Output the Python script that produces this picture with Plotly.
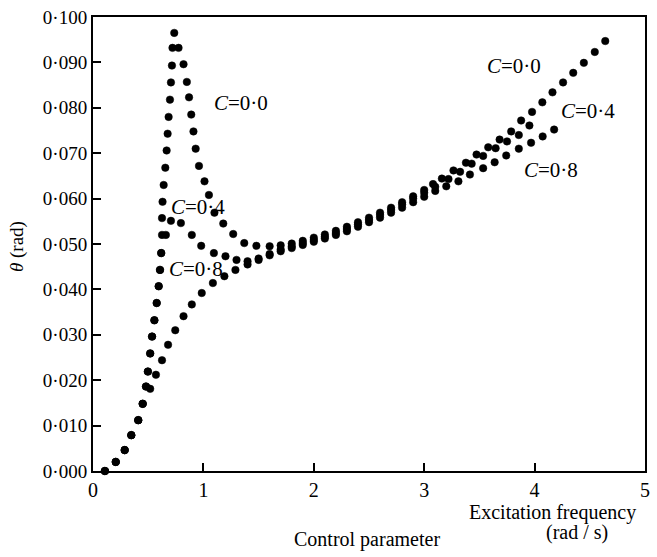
import plotly.graph_objects as go

# ---- data ----
series_names = ["C=0·0", "C=0·4", "C=0·8"]

x_c00 = [0.108, 0.206, 0.287, 0.347, 0.41, 0.45, 0.48, 0.497, 0.518, 0.535, 0.556, 0.577,
         0.595, 0.607, 0.618, 0.625, 0.625, 0.63, 0.64, 0.655, 0.667, 0.676, 0.685, 0.697,
         0.706, 0.715, 0.72, 0.736, 0.775, 0.82, 0.85, 0.87, 0.89, 0.91, 0.93, 0.96, 1.01,
         1.05, 1.10, 1.18, 1.27, 1.37, 1.48, 1.6, 1.7, 1.8, 1.9, 2.0, 2.1, 2.2, 2.3, 2.4,
         2.5, 2.6, 2.7, 2.8, 2.9, 3.0, 3.08, 3.16, 3.265, 3.378, 3.474, 3.58, 3.683, 3.788,
         3.878, 3.977, 4.07, 4.162, 4.258, 4.35, 4.446, 4.545, 4.64]
y_c00 = [0.0, 0.002, 0.0046, 0.0079, 0.0112, 0.0148, 0.0186, 0.0219, 0.0259, 0.0296, 0.0332,
         0.037, 0.0407, 0.0443, 0.048, 0.052, 0.0557, 0.0593, 0.063, 0.0668, 0.0706, 0.0743,
         0.078, 0.0818, 0.0856, 0.0893, 0.0932, 0.0965, 0.0932, 0.0896, 0.0857, 0.0823,
         0.0785, 0.0748, 0.071, 0.0672, 0.0638, 0.0608, 0.0569, 0.0545, 0.0522, 0.0502,
         0.0496, 0.0495, 0.0497, 0.0501, 0.0507, 0.0514, 0.0521, 0.0529, 0.0538, 0.0548,
         0.0558, 0.0569, 0.0580, 0.0592, 0.0605, 0.0619, 0.0632, 0.0644, 0.0662, 0.0679,
         0.0697, 0.0713, 0.073, 0.0748, 0.0772, 0.0791, 0.0812, 0.0834, 0.0856, 0.0877,
         0.0899, 0.0923, 0.0947]

x_c04 = [0.108, 0.206, 0.287, 0.347, 0.41, 0.45, 0.48, 0.497, 0.518, 0.535, 0.556, 0.577,
         0.595, 0.607, 0.618, 0.66, 0.706, 0.796, 0.895, 0.98, 1.095, 1.2, 1.3, 1.4, 1.5,
         1.6, 1.7, 1.8, 1.9, 2.0, 2.1, 2.2, 2.3, 2.4, 2.5, 2.6, 2.7, 2.8, 2.9, 3.0, 3.1,
         3.22, 3.325, 3.43, 3.534, 3.647, 3.75, 3.857, 3.953]
y_c04 = [0.0, 0.002, 0.0046, 0.0079, 0.0112, 0.0148, 0.0186, 0.0219, 0.0259, 0.0296, 0.0332,
         0.037, 0.0407, 0.0443, 0.048, 0.052, 0.0551, 0.0546, 0.052, 0.0496, 0.048, 0.0473,
         0.0465, 0.0462, 0.0468, 0.0478, 0.0488, 0.0495, 0.0502, 0.0509, 0.0516, 0.0524,
         0.0533, 0.0543, 0.0553, 0.0564, 0.0575, 0.0587, 0.0600, 0.0613, 0.0626, 0.0643,
         0.0659, 0.0677, 0.0694, 0.0711, 0.0726, 0.074, 0.0761]

x_c08 = [0.108, 0.206, 0.287, 0.347, 0.41, 0.45, 0.518, 0.57, 0.625, 0.68, 0.745, 0.82,
         0.895, 0.985, 1.086, 1.19, 1.29, 1.4, 1.5, 1.6, 1.7, 1.8, 1.9, 2.0, 2.1, 2.2, 2.3,
         2.4, 2.5, 2.6, 2.7, 2.8, 2.9, 3.0, 3.1, 3.2, 3.31, 3.414, 3.534, 3.638, 3.743,
         3.857, 3.968, 4.073, 4.177]
y_c08 = [0.0, 0.002, 0.0046, 0.0079, 0.0112, 0.0148, 0.0181, 0.0212, 0.0244, 0.0278, 0.031,
         0.0341, 0.0367, 0.0392, 0.0414, 0.0429, 0.0443, 0.0455, 0.0465, 0.0475, 0.0484,
         0.0491, 0.0498, 0.0505, 0.0512, 0.0520, 0.0528, 0.0538, 0.0548, 0.0558, 0.0569,
         0.0580, 0.0592, 0.0604, 0.0617, 0.0627, 0.0638, 0.0653, 0.0667, 0.068, 0.0695,
         0.071, 0.0723, 0.0737, 0.0752]

x_ticks = [0, 1, 2, 3, 4, 5]
x_ticklabels = ["0", "1", "2", "3", "4", "5"]
y_ticks = [0.0, 0.01, 0.02, 0.03, 0.04, 0.05, 0.06, 0.07, 0.08, 0.09, 0.1]
y_ticklabels = ["0·000", "0·010", "0·020", "0·030", "0·040", "0·050",
                "0·060", "0·070", "0·080", "0·090", "0·100"]

# curve labels: (text, x, y)
label_text = ["<i>C</i>=0·0", "<i>C</i>=0·4", "<i>C</i>=0·8",
              "<i>C</i>=0·0", "<i>C</i>=0·4", "<i>C</i>=0·8"]
label_x = [1.34, 0.95, 0.93, 3.81, 4.48, 4.15]
label_y = [0.081, 0.0582, 0.0446, 0.0893, 0.0794, 0.0663]

FONT = "Liberation Serif"

fig = go.Figure()
for name, xs, ys in [(series_names[0], x_c00, y_c00),
                     (series_names[1], x_c04, y_c04),
                     (series_names[2], x_c08, y_c08)]:
    fig.add_trace(go.Scatter(
        x=xs, y=ys, mode="markers", name=name, showlegend=False,
        cliponaxis=False,
        marker=dict(symbol="circle", size=7.5, color="black",
                    line=dict(width=0.5, color="black")),
    ))

for t, lx, ly in zip(label_text, label_x, label_y):
    fig.add_annotation(x=lx, y=ly, text=t, showarrow=False, xanchor="center",
                       font=dict(family=FONT, size=21, color="black"))

fig.add_annotation(xref="paper", yref="paper", x=0.833, y=-0.092, text="Excitation frequency",
                   showarrow=False, xanchor="center", yanchor="middle",
                   font=dict(family=FONT, size=20, color="black"))
fig.add_annotation(xref="paper", yref="paper", x=0.876, y=-0.136, text="(rad / s)",
                   showarrow=False, xanchor="center", yanchor="middle",
                   font=dict(family=FONT, size=20, color="black"))
fig.add_annotation(xref="paper", yref="paper", x=0.496, y=-0.151, text="Control parameter",
                   showarrow=False, xanchor="center", yanchor="middle",
                   font=dict(family=FONT, size=20, color="black"))
# y-axis title
fig.add_annotation(xref="paper", yref="paper", x=-0.138, y=0.495, text="<i>θ</i> (rad)",
                   showarrow=False, xanchor="center", yanchor="middle", textangle=-90,
                   font=dict(family=FONT, size=19, color="black"))

fig.update_layout(
    width=657, height=557,
    margin=dict(l=93, r=7, t=14, b=86),
    paper_bgcolor="white", plot_bgcolor="white",
    font=dict(family=FONT, color="black"),
    xaxis=dict(range=[0, 5], tickvals=x_ticks, ticktext=x_ticklabels,
               showgrid=False, zeroline=False, showline=True, linecolor="black",
               linewidth=2, mirror=True, ticks="inside", ticklen=8, tickwidth=1.5,
               tickcolor="black", tickfont=dict(family=FONT, size=20, color="black")),
    yaxis=dict(range=[0, 0.1], tickvals=y_ticks, ticktext=y_ticklabels,
               showgrid=False, zeroline=False, showline=True, linecolor="black",
               linewidth=2, mirror=True, ticks="inside", ticklen=8, tickwidth=1.5,
               tickcolor="black", tickfont=dict(family=FONT, size=19, color="black")),
)

fig.write_html("out.html")
